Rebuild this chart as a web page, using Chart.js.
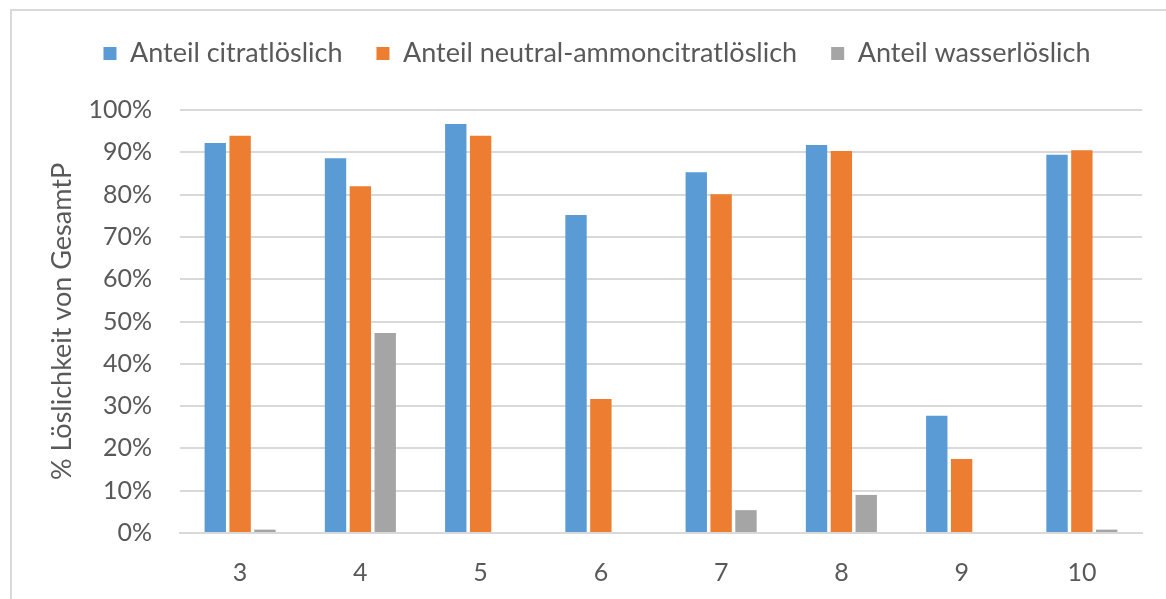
<!DOCTYPE html>
<html>
<head>
<meta charset="utf-8">
<script src="https://cdn.jsdelivr.net/npm/chart.js@4"></script>
<style>
  html, body { margin: 0; padding: 0; background: #fff; overflow: hidden; }
  #frame {
    position: absolute; left: 10px; top: 9px; width: 1200px; height: 620px;
    border-left: 2px solid #d9d9d9; border-top: 2px solid #d9d9d9;
  }
  #solubility { position: absolute; left: 0; top: 0; }
</style>
</head>
<body>
<div id="frame"></div>
<canvas id="solubility" width="1166" height="599"></canvas>
<script>
// Proben
var labels = ["3", "4", "5", "6", "7", "8", "9", "10"];
// Anteile in Prozent vom GesamtP
var citratloeslich = [92.2, 88.6, 96.7, 75.2, 85.3, 91.7, 27.7, 89.4];
var ammoncitratloeslich = [93.9, 82.0, 93.9, 31.7, 80.1, 90.3, 17.5, 90.5];
var wasserloeslich = [0.8, 47.3, 0, 0, 5.4, 9.0, 0, 0.8];

var textColor = "#595959";
var fontFamily = "Lato, 'Open Sans', sans-serif";

// legend block gets a fixed height so the plot starts lower,
// and is nudged a bit right/down like in the original
var legendSpacing = {
    id: "legendSpacing",
    beforeInit: function (chart) {
        var origFit = chart.legend.fit;
        chart.legend.fit = function () {
            origFit.bind(chart.legend)();
            this.height = 110;
        };
    },
    afterLayout: function (chart) {
        var lg = chart.legend;
        lg.left += 21;
        lg.right += 21;
        lg.top += 6;
        lg.bottom += 6;
    },
};

var canvas = document.getElementById("solubility");

var chart = new Chart(canvas, {
    type: "bar",
    data: {
        labels: labels,
        datasets: [
            {
                label: "Anteil citratlöslich",
                data: citratloeslich,
                backgroundColor: "#5b9bd5",
            },
            {
                label: "Anteil neutral-ammoncitratlöslich",
                data: ammoncitratloeslich,
                backgroundColor: "#ed7d31",
            },
            {
                label: "Anteil wasserlöslich",
                data: wasserloeslich,
                backgroundColor: "#a5a5a5",
            },
        ],
    },
    options: {
        responsive: false,
        animation: false,
        categoryPercentage: 0.62,
        barPercentage: 0.86,
        layout: {
            padding: { left: 10, right: 24, top: 0, bottom: 0 },
        },
        plugins: {
            legend: {
                display: true,
                position: "top",
                labels: {
                    color: textColor,
                    font: { family: fontFamily, size: 27 },
                    boxWidth: 13,
                    boxHeight: 13,
                    padding: 34,
                },
            },
            tooltip: { enabled: false },
        },
        scales: {
            x: {
                grid: { display: false },
                border: { display: true, color: "#d9d9d9", width: 2 },
                ticks: {
                    color: textColor,
                    font: { family: fontFamily, size: 25 },
                    padding: 17,
                },
                afterFit: function (scale) { scale.height = 66; },
            },
            y: {
                min: 0,
                max: 100,
                ticks: {
                    stepSize: 10,
                    color: textColor,
                    font: { family: fontFamily, size: 25 },
                    padding: 28,
                    callback: function (v) { return v + "%"; },
                },
                grid: { color: "#d9d9d9", lineWidth: 2, drawTicks: false },
                border: { display: false },
                title: {
                    display: true,
                    text: "% Löslichkeit von GesamtP",
                    color: textColor,
                    font: { family: fontFamily, size: 27 },
                    padding: { top: 36, bottom: 0 },
                },
                afterFit: function (scale) { scale.width = 170; },
            },
        },
    },
    plugins: [legendSpacing],
});
</script>
</body>
</html>
